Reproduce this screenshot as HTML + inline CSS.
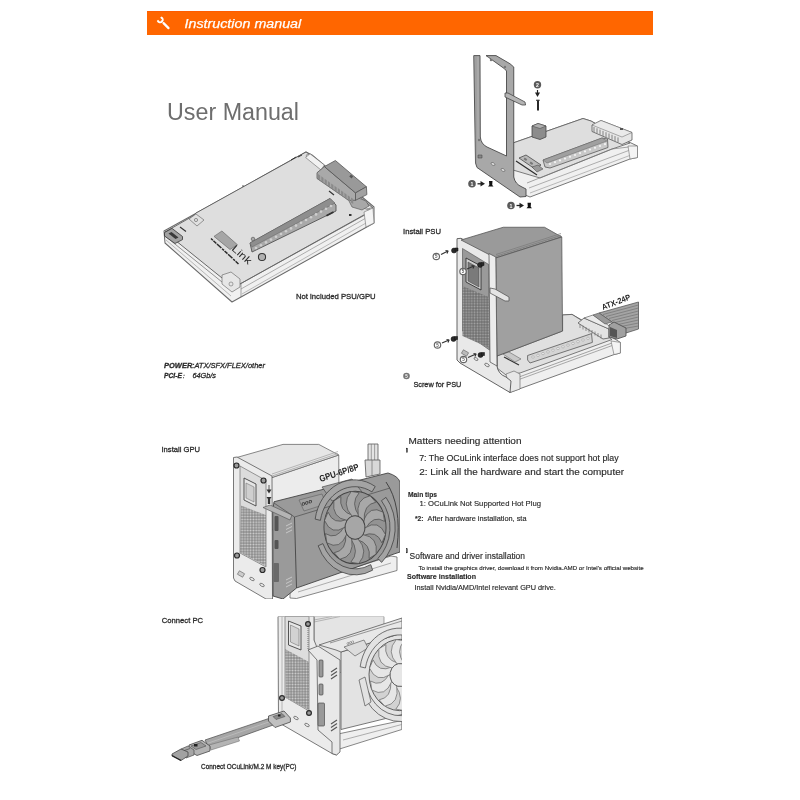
<!DOCTYPE html>
<html><head><meta charset="utf-8">
<style>
html,body{margin:0;padding:0;background:#fff;}
body{width:800px;height:800px;position:relative;overflow:hidden;font-family:"Liberation Sans",sans-serif;}
svg{position:absolute;left:0;top:0;filter:blur(0.35px);}
text{font-family:"Liberation Sans",sans-serif;}
</style></head><body>
<svg width="800" height="800" viewBox="0 0 800 800">
<defs>
<pattern id="mL" width="2.8" height="2.8" patternUnits="userSpaceOnUse"><rect width="2.8" height="2.8" fill="#8a8a8a"/><circle cx="1.4" cy="1.4" r="0.95" fill="#d4d4d4"/></pattern>
<pattern id="mD" width="2.8" height="2.8" patternUnits="userSpaceOnUse"><rect width="2.8" height="2.8" fill="#707070"/><circle cx="1.4" cy="1.4" r="0.9" fill="#a8a8a8"/></pattern>
</defs>
<!-- header -->
<rect x="147" y="11" width="506" height="24" fill="#ff6600"/>
<rect x="147" y="11" width="506" height="1" fill="#ff5c00"/>
<g transform="translate(164.2,23.8) rotate(-45)" fill="#fff">
  <rect x="-1.15" y="-2" width="2.3" height="9.2" rx="1.1"/>
  <path d="M-3.3,-7.2 A3.6,3.6 0 1 0 3.3,-7.2 L1.5,-7.2 L1.5,-4.4 L-1.5,-4.4 L-1.5,-7.2 Z"/>
</g>
<text x="184.5" y="28" font-size="13" font-style="italic" fill="#fff" stroke="#fff" stroke-width="0.25" textLength="116.75" lengthAdjust="spacingAndGlyphs">Instruction manual</text>

<text x="167" y="120" font-size="23.3" fill="#6e6e6e" textLength="132" lengthAdjust="spacingAndGlyphs">User Manual</text>

<g id="d1" stroke-linejoin="round">
  <!-- silhouette -->
  <polygon points="164,231 193,215 306,152 312,155 374,207 374,223 241,297 232,302 165,243" fill="#f0f0f0" stroke="#6a6a6a" stroke-width="1.04"/>
  <!-- board top face -->
  <polygon points="165,232 193,216 196,213 306,152 312,156 373,208 371,211 240,284 232,285 222,278" fill="#dedede" stroke="#5a5a5a" stroke-width="0.91"/>
  <!-- front-left rail lines -->
  <polyline points="165,236 222,282 232,289" fill="none" stroke="#777" stroke-width="0.78"/>
  <polyline points="166,240 231,296" fill="none" stroke="#999" stroke-width="0.65"/>
  <!-- front-right rail lines -->
  <polyline points="240,284 372,211" fill="none" stroke="#666" stroke-width="0.78"/>
  <polyline points="241,289 373,214" fill="none" stroke="#888" stroke-width="0.65"/>
  <polyline points="242,294 373,219" fill="none" stroke="#999" stroke-width="0.65"/>
  <line x1="241" y1="284" x2="241" y2="297" stroke="#777" stroke-width="0.65"/>
  <!-- front corner post -->
  <polygon points="222,275 231,272 240,279 240,287 232,292 222,284" fill="#e6e6e6" stroke="#666" stroke-width="0.65"/>
  <circle cx="231" cy="284" r="2" fill="none" stroke="#777" stroke-width="0.65"/>
  <!-- right end box -->
  <polygon points="364,212 373,208 374,223 366,227" fill="#f4f4f4" stroke="#777" stroke-width="0.65"/>
  <circle cx="368" cy="208" r="1.8" fill="none" stroke="#777" stroke-width="0.65"/>
  <!-- top corner -->
  <circle cx="308" cy="156" r="1.8" fill="none" stroke="#777" stroke-width="0.65"/>
  <!-- USB connector left -->
  <polygon points="164.5,232.5 172,228.4 182.5,236.5 182.5,239.6 175,243.5 164.5,236" fill="#a2a2a2" stroke="#333" stroke-width="0.8"/>
  <polygon points="168.5,233.5 171.5,232 178.5,237.5 175.5,239" fill="#3a3a3a"/>
  <line x1="180" y1="227" x2="186" y2="231.5" stroke="#333" stroke-width="1.1"/>
  <!-- small screw post left -->
  <polygon points="189,219 196,214 204,220 197,226" fill="#e0e0e0" stroke="#666" stroke-width="0.65"/>
  <circle cx="196" cy="220" r="1.6" fill="none" stroke="#666" stroke-width="0.65"/>
  <polygon points="310,153.75 324.4,165 321,170 305.6,157.5" fill="#f2f2f2" stroke="#666" stroke-width="0.6"/>
  <polygon points="359,199 372.5,207.5 366,209 356,204" fill="#f2f2f2" stroke="#666" stroke-width="0.6"/>
  <!-- connector 24pin -->
  <polygon points="348,199 356,197 366,201 369,206 362,210 352,207" fill="#a8a8a8" stroke="#555" stroke-width="0.65"/>
  <polygon points="317,172.75 324.4,166.6 355.5,192.9 355.5,200.3 348.5,200.3 317,178.5" fill="#a9a9a9" stroke="#555" stroke-width="0.78"/>
  <g fill="#8a8a8a"><path d="M318.0,174.0 l2.2,1.6 l0,5 l-2.2,-1.6 Z"/><path d="M321.3,176.3 l2.2,1.6 l0,5 l-2.2,-1.6 Z"/><path d="M324.6,178.7 l2.2,1.6 l0,5 l-2.2,-1.6 Z"/><path d="M327.9,181.1 l2.2,1.6 l0,5 l-2.2,-1.6 Z"/><path d="M331.2,183.4 l2.2,1.6 l0,5 l-2.2,-1.6 Z"/><path d="M334.5,185.8 l2.2,1.6 l0,5 l-2.2,-1.6 Z"/><path d="M337.8,188.1 l2.2,1.6 l0,5 l-2.2,-1.6 Z"/><path d="M341.1,190.4 l2.2,1.6 l0,5 l-2.2,-1.6 Z"/><path d="M344.4,192.8 l2.2,1.6 l0,5 l-2.2,-1.6 Z"/><path d="M347.7,195.2 l2.2,1.6 l0,5 l-2.2,-1.6 Z"/><path d="M351.0,197.5 l2.2,1.6 l0,5 l-2.2,-1.6 Z"/></g>
  <polygon points="324.4,166.6 335.4,160.5 366.4,186.75 355.5,192.9" fill="#999" stroke="#555" stroke-width="0.78"/>
  <polygon points="355.5,192.9 366.4,186.75 366.9,194.6 355.5,200.3" fill="#a2a2a2" stroke="#555" stroke-width="0.78"/>
  <rect x="350" y="175" width="3" height="2.5" fill="#555" transform="rotate(40 351 176)"/>
  <!-- small marks -->
  <line x1="329" y1="191" x2="334" y2="195" stroke="#333" stroke-width="1.2"/>
  <line x1="291" y1="160" x2="296" y2="157" stroke="#333" stroke-width="1.0"/>
  <line x1="298" y1="157" x2="302" y2="155" stroke="#333" stroke-width="1.0"/>
  <circle cx="243" cy="186" r="0.8" fill="#444"/>
  <rect x="349" y="214" width="2.5" height="2" fill="#333"/>
  <!-- PCIe slot -->
  <polygon points="250,243 330,198.5 336,205 336,211 252,252" fill="#a9a9a9" stroke="#555" stroke-width="0.91"/>
  <polygon points="250,243 330,198.5 335,203 252,247" fill="#8e8e8e" stroke="#666" stroke-width="0.52"/>
  <g fill="#cfcfcf">
    <circle cx="256" cy="248" r="1.3"/><circle cx="261" cy="245.2" r="1.3"/><circle cx="266" cy="242.4" r="1.3"/>
    <circle cx="271" cy="239.6" r="1.3"/><circle cx="276" cy="236.8" r="1.3"/><circle cx="281" cy="234" r="1.3"/>
    <circle cx="286" cy="231.2" r="1.3"/><circle cx="291" cy="228.4" r="1.3"/><circle cx="296" cy="225.6" r="1.3"/>
    <circle cx="301" cy="222.8" r="1.3"/><circle cx="306" cy="220" r="1.3"/><circle cx="311" cy="217.2" r="1.3"/>
    <circle cx="316" cy="214.4" r="1.3"/><circle cx="321" cy="211.6" r="1.3"/><circle cx="326" cy="208.8" r="1.3"/>
    <circle cx="331" cy="206" r="1.3"/>
  </g>
  <circle cx="253" cy="239" r="1.8" fill="#aaa" stroke="#555" stroke-width="0.65"/>
  <circle cx="262" cy="257" r="3.6" fill="#b0b0b0" stroke="#333" stroke-width="1.04"/>
  <rect x="326" y="213" width="8" height="1.8" fill="#333" transform="rotate(-28 330 214)"/>
  <!-- OCuLink logo -->
  <polygon points="214,236.4 221.9,231 237.5,244.8 230,249.5" fill="#a6a6a6" stroke="#666" stroke-width="0.65"/>
  <polyline points="211,238.5 230,256 239,264.5" fill="none" stroke="#2a2a2a" stroke-width="1.5" stroke-dasharray="2.5 0.8 4 0.8 6 1"/>
  <text x="0" y="0" font-size="10" fill="#2a2a2a" transform="translate(231,249.5) rotate(42)" textLength="23" lengthAdjust="spacingAndGlyphs">Link</text>
</g>

<g id="d2" stroke-linejoin="round">
  <!-- board/tray -->
  <polygon points="513,143 583,118.5 591,121 630,142.5 637.5,146 637.5,157.5 630,159 530,197 513,190" fill="#f0f0f0" stroke="#6a6a6a" stroke-width="0.91"/>
  <polygon points="513,143 583,118.5 591,121 630,143 612,149 540,178 513,170" fill="#dedede" stroke="#5a5a5a" stroke-width="0.78"/>
  <polyline points="527,183 612,149 637,146" fill="none" stroke="#777" stroke-width="0.65"/>
  <polyline points="529,188 630,150" fill="none" stroke="#888" stroke-width="0.65"/>
  <polyline points="530,193 631,155" fill="none" stroke="#999" stroke-width="0.65"/>
  <polygon points="628,146 637.5,146 637.5,157.5 630,159" fill="#f4f4f4" stroke="#777" stroke-width="0.65"/>
  <!-- clips on board -->
  <polygon points="519,158 526,155 541,165 535,169" fill="#b8b8b8" stroke="#444" stroke-width="0.78"/>
  <rect x="524" y="158" width="3" height="2" fill="#777" transform="rotate(33 525 159)"/><rect x="530" y="162" width="3" height="2" fill="#777" transform="rotate(33 531 163)"/>
  <line x1="516" y1="161" x2="537" y2="175" stroke="#2a2a2a" stroke-width="1.1"/>
  <polygon points="532,167 538,165 543,169 537,172" fill="#999" stroke="#444" stroke-width="0.52"/>
  <!-- 24pin -->
  <polygon points="592,125 601,120.5 632,132.5 632,140 622,144.5 592,131.5" fill="#e6e6e6" stroke="#555" stroke-width="0.78"/>
  <polygon points="592,125 601,120.5 632,132.5 622,137" fill="#eaeaea" stroke="#666" stroke-width="0.52"/>
  <g stroke="#777" stroke-width="0.91">
    <line x1="594" y1="127" x2="594" y2="132"/><line x1="597" y1="128.3" x2="597" y2="133.3"/>
    <line x1="600" y1="129.6" x2="600" y2="134.6"/><line x1="603" y1="130.9" x2="603" y2="135.9"/>
    <line x1="606" y1="132.2" x2="606" y2="137.2"/><line x1="609" y1="133.5" x2="609" y2="138.5"/>
    <line x1="612" y1="134.8" x2="612" y2="139.8"/><line x1="615" y1="136.1" x2="615" y2="141.1"/>
    <line x1="618" y1="137.4" x2="618" y2="142.4"/>
  </g>
  <rect x="620" y="128" width="3" height="2" fill="#555"/>
  <!-- PCIe slot -->
  <polygon points="543,160 602,138 607.5,139 608,147.5 550,168 545,167" fill="#c8c8c8" stroke="#555" stroke-width="0.78"/>
  <polygon points="543,160 602,138 607,141 547,163" fill="#a0a0a0" stroke="#666" stroke-width="0.52"/>
  <g fill="#f2f2f2">
    <circle cx="550" cy="164" r="1.1"/><circle cx="555" cy="162.2" r="1.1"/><circle cx="560" cy="160.4" r="1.1"/>
    <circle cx="565" cy="158.6" r="1.1"/><circle cx="570" cy="156.8" r="1.1"/><circle cx="575" cy="155" r="1.1"/>
    <circle cx="580" cy="153.2" r="1.1"/><circle cx="585" cy="151.4" r="1.1"/><circle cx="590" cy="149.6" r="1.1"/>
    <circle cx="595" cy="147.8" r="1.1"/><circle cx="600" cy="146" r="1.1"/><circle cx="605" cy="144.2" r="1.1"/>
  </g>
  <!-- cube -->
  <polygon points="532,126 538,123.5 546,126 546,137 540,139.5 532,137" fill="#8c8c8c" stroke="#444" stroke-width="0.78"/>
  <polygon points="532,126 538,123.5 546,126 540,128.5" fill="#b0b0b0" stroke="#444" stroke-width="0.52"/>
  <!-- bracket -->
  <path d="M473.75,55.6 L480,55.6 L480.3,137 Q481,144 487,147 L506.5,156 L506.5,71 L504.5,68.75 L488.75,57.5 L486,55.6 L496,55.6 L510,63.75 L513.75,67 L513.75,177 Q515,184 522,187 L526,189 L526,196.5 L520,197 L477,167.5 L475.5,163 Z" fill="#a8a8a8" stroke="#4a4a4a" stroke-width="0.91"/>
  <line x1="476" y1="56" x2="476" y2="164" stroke="#888" stroke-width="0.52"/>
  <circle cx="491" cy="60" r="1.2" fill="#777"/><circle cx="505" cy="67" r="1.2" fill="#777"/>
  <circle cx="479" cy="140" r="1.2" fill="#777"/>
  <ellipse cx="493" cy="164" rx="2.2" ry="1.2" fill="#e0e0e0" stroke="#555" stroke-width="0.52" transform="rotate(30 493 164)"/>
  <ellipse cx="503" cy="170" rx="2.2" ry="1.2" fill="#e0e0e0" stroke="#555" stroke-width="0.52" transform="rotate(30 503 170)"/>
  <rect x="478" y="155" width="4" height="3" fill="#888" stroke="#444" stroke-width="0.52"/>
  <!-- tab -->
  <polygon points="505,93 508,93 525,102 525.6,105 522,105 505,97" fill="#b4b4b4" stroke="#444" stroke-width="0.78"/>
  <!-- screw 2 -->
  <circle cx="537.5" cy="84.75" r="3.7" fill="#5a5a5a"/>
  <text x="536" y="86.8" font-size="5.2" font-weight="bold" fill="#fff">2</text>
  <line x1="537.5" y1="90" x2="537.5" y2="95" stroke="#222" stroke-width="1.17"/>
  <polygon points="535,92.5 540,92.5 537.5,97" fill="#222"/>
  <line x1="538" y1="101" x2="538" y2="110.5" stroke="#111" stroke-width="1.8"/>
  <line x1="536.2" y1="100.3" x2="539.6" y2="100.3" stroke="#222" stroke-width="1.2"/>
  <!-- markers 1 -->
  <g>
    <circle cx="472" cy="183.8" r="3.8" fill="#5a5a5a"/>
    <text x="470.6" y="185.9" font-size="5.2" font-weight="bold" fill="#fff">1</text>
    <line x1="477.5" y1="183.8" x2="482" y2="183.8" stroke="#222" stroke-width="1.3"/>
    <polygon points="480.5,181 485,183.8 480.5,186.6" fill="#222"/>
    <path d="M489,181 L492.5,181 L492.2,185 L493.5,186.6 L488,186.6 L489.3,185 Z" fill="#111"/>
  </g>
  <g>
    <circle cx="511" cy="205.5" r="3.8" fill="#5a5a5a"/>
    <text x="509.6" y="207.6" font-size="5.2" font-weight="bold" fill="#fff">1</text>
    <line x1="516.5" y1="205.5" x2="521" y2="205.5" stroke="#222" stroke-width="1.3"/>
    <polygon points="519.5,202.7 524,205.5 519.5,208.3" fill="#222"/>
    <path d="M527.5,202.7 L531,202.7 L530.7,206.7 L532,208.3 L526.5,208.3 L527.8,206.7 Z" fill="#111"/>
  </g>
</g>

<g id="d3" stroke-linejoin="round">
  <!-- board / tray -->
  <polygon points="497,340 562.6,315 572,314.4 616,339.7 620.4,342.4 620.4,353 614,354.6 519.75,388.75 510,392.5 497,380" fill="#efefef" stroke="#6a6a6a" stroke-width="0.91"/>
  <polygon points="497,356 562.6,331 562.6,315 572,314.4 612,339.5 520,373 506,375 497,368" fill="#e0e0e0" stroke="#5a5a5a" stroke-width="0.78"/>
  <polyline points="519,377 612,343" fill="none" stroke="#777" stroke-width="0.65"/>
  <polyline points="519,379.5 615,344.5" fill="none" stroke="#777" stroke-width="0.6"/>
  
  <polygon points="611,341 620.4,342.4 620.4,353 614,354.6" fill="#f4f4f4" stroke="#777" stroke-width="0.65"/>
  <polygon points="506,374 514,371 520,374 520,389 510,392.5" fill="#e8e8e8" stroke="#666" stroke-width="0.65"/>
  <!-- slot -->
  <polygon points="527.6,355.5 591.5,333.6 592.4,342.4 530,363 527.6,360" fill="#d4d4d4" stroke="#555" stroke-width="0.78"/>
  <g fill="#f4f4f4" stroke="#777" stroke-width="0.39">
    <circle cx="533" cy="357" r="1.2"/><circle cx="538" cy="355.3" r="1.2"/><circle cx="543" cy="353.6" r="1.2"/>
    <circle cx="548" cy="351.9" r="1.2"/><circle cx="553" cy="350.2" r="1.2"/><circle cx="558" cy="348.5" r="1.2"/>
    <circle cx="563" cy="346.8" r="1.2"/><circle cx="568" cy="345.1" r="1.2"/><circle cx="573" cy="343.4" r="1.2"/>
    <circle cx="578" cy="341.7" r="1.2"/><circle cx="583" cy="340" r="1.2"/><circle cx="588" cy="338.3" r="1.2"/>
  </g>
  <line x1="504" y1="357" x2="519" y2="365" stroke="#333" stroke-width="1.17"/>
  <polygon points="503,354 509,352 521,359 515,362" fill="#c8c8c8" stroke="#555" stroke-width="0.52"/>
  <!-- 24p connector on board -->
  <polygon points="578,323 584,318 609,329 609,338 603,339" fill="#e4e4e4" stroke="#555" stroke-width="0.78"/>
  <g stroke="#777" stroke-width="0.78">
    <line x1="580" y1="324" x2="580" y2="328"/><line x1="583" y1="325.5" x2="583" y2="329.5"/>
    <line x1="586" y1="327" x2="586" y2="331"/><line x1="589" y1="328.5" x2="589" y2="332.5"/>
    <line x1="592" y1="330" x2="592" y2="334"/><line x1="595" y1="331.5" x2="595" y2="335.5"/>
    <line x1="598" y1="333" x2="598" y2="337"/><line x1="601" y1="334.5" x2="601" y2="338.5"/>
  </g>
  <polygon points="584,318 593,315 614,329 609,329" fill="#ececec" stroke="#555" stroke-width="0.65"/>
  <!-- ATX cable ribbon -->
  <polygon points="599,313 638.5,302 638.5,329 626,333 612,322" fill="#a4a4a4" stroke="#555" stroke-width="0.78"/>
  <g stroke="#6a6a6a" stroke-width="0.59">
    <line x1="603" y1="314.5" x2="638.5" y2="305"/><line x1="606" y1="316.5" x2="638.5" y2="308"/>
    <line x1="609" y1="318.5" x2="638.5" y2="311"/><line x1="612" y1="320.5" x2="638.5" y2="314"/>
    <line x1="615" y1="322.5" x2="638.5" y2="317"/><line x1="618" y1="324.5" x2="638.5" y2="320"/>
    <line x1="621" y1="326.5" x2="638.5" y2="323"/><line x1="624" y1="328.5" x2="638.5" y2="326"/>
  </g>
  <polygon points="593,315 599,313 612,322 605,324" fill="#999" stroke="#555" stroke-width="0.65"/>
  <polygon points="609,325 614,322 626,328 626,336 617,339 609,337" fill="#a0a0a0" stroke="#444" stroke-width="0.78"/>
  <polygon points="610,327 617,330 617,338 610,336" fill="#555"/>
  <text x="0" y="0" font-size="8" font-weight="bold" fill="#222" transform="translate(603,310) rotate(-21)" textLength="30" lengthAdjust="spacingAndGlyphs">ATX-24P</text>
  <!-- bracket light -->
  <path d="M457,238.7 L461,238.3 L496,257 L497,366 Q498,374 506,377 L511,381 L510,392.5 L460,363 L457,360 Z" fill="#e9e9e9" stroke="#555" stroke-width="0.91"/>
  <!-- PSU back panel inner -->
  <polygon points="462.5,248.5 488.7,264.5 489.5,350 462.5,331" fill="#9a9a9a" stroke="#555" stroke-width="0.65"/>
  <polygon points="462.5,286 488.7,297 489.5,348 462.5,336" fill="url(#mD)"/>
  <!-- inlet -->
  <polygon points="466,258 481,266 481,290 466,282" fill="#d0d0d0" stroke="#333" stroke-width="0.91"/>
  <polygon points="468,262 479,268 479,287 468,281" fill="#7a7a7a" stroke="#444" stroke-width="0.52"/>
  <!-- PSU top face -->
  <polygon points="461,240 503.25,227.25 544.5,227.25 561.75,237 495.75,258" fill="#9a9a9a" stroke="#555" stroke-width="0.78"/>
  <g stroke="#777" stroke-width="0.65"><line x1="496" y1="254.5" x2="561" y2="233.5"/><line x1="496" y1="256.3" x2="561" y2="235.3"/></g>
  <!-- PSU side face -->
  <polygon points="495.75,258 561.75,237 562.5,331 497,356" fill="#a0a0a0" stroke="#555" stroke-width="0.78"/>
  <!-- right bar of bracket -->
  <polygon points="489,253.5 495.8,257 497,366 490,362" fill="#ececec" stroke="#555" stroke-width="0.78"/>
  <!-- tab -->
  <polygon points="490,288 495,289 509,297 509,301 505,301 490,293" fill="#e4e4e4" stroke="#555" stroke-width="0.78"/>
  <!-- bottom holes -->
  <ellipse cx="487" cy="365" rx="2.5" ry="1.4" fill="none" stroke="#555" stroke-width="0.65" transform="rotate(30 487 365)"/>
  <ellipse cx="476" cy="359" rx="2.2" ry="1.2" fill="none" stroke="#555" stroke-width="0.65" transform="rotate(30 476 359)"/>
  <rect x="462" y="351" width="6" height="4" fill="#bbb" stroke="#555" stroke-width="0.52" transform="rotate(30 465 353)"/>
  <!-- screws -->
  <g fill="#2a2a2a" stroke="#111" stroke-width="0.52">
    <circle cx="454" cy="250.5" r="2.5"/><rect x="455" y="248" width="3" height="3"/>
    <circle cx="480" cy="265" r="2.5"/><rect x="481" y="262.5" width="3" height="3"/>
    <circle cx="453.5" cy="339" r="2.5"/><rect x="454.5" y="336.5" width="3" height="3"/>
    <circle cx="480.5" cy="355" r="2.5"/><rect x="481.5" y="352.5" width="3" height="3"/>
  </g>
  <!-- markers 5 -->
  <g fill="#fff" stroke="#666" stroke-width="1.17">
    <circle cx="436.3" cy="256.5" r="3.2"/><circle cx="463" cy="271.5" r="3.2"/>
    <circle cx="437.5" cy="345" r="3.2"/><circle cx="463.5" cy="359.5" r="3.2"/>
  </g>
  <circle cx="406.5" cy="376" r="3.3" fill="#777"/>
  <g stroke="#333" stroke-width="1.17" fill="none">
    <line x1="441" y1="254.5" x2="448" y2="251"/><polyline points="445.5,250.5 448,251 447,253.5"/>
    <line x1="467" y1="269" x2="474" y2="266"/><polyline points="471.5,265.5 474,266 473,268.5"/>
    <line x1="442" y1="343" x2="449" y2="340"/><polyline points="446.5,339.5 449,340 448,342.5"/>
    <line x1="468" y1="357.5" x2="476" y2="354"/><polyline points="473.5,353.5 476,354 475,356.5"/>
  </g>
  <g font-size="4.5" font-weight="bold" fill="#555">
    <text x="435" y="258.2">5</text><text x="461.7" y="273.2">5</text><text x="436.2" y="346.7">5</text><text x="462.2" y="361.2">5</text>
  </g>
  <text x="405.2" y="377.7" font-size="4.5" font-weight="bold" fill="#fff">5</text>
</g>

<g id="d4" stroke-linejoin="round" clip-path="url(#c4)">
  <!-- PSU side face -->
  <polygon points="270.6,478 338.75,455 339,510 272,530" fill="#ececec" stroke="#666" stroke-width="0.78"/>
  <!-- PSU top face -->
  <polygon points="235,458 283,444.4 318.75,444.4 338.75,455 270.6,478" fill="#e6e6e6" stroke="#666" stroke-width="0.78"/>
  <g stroke="#999" stroke-width="0.65"><line x1="272" y1="474" x2="338" y2="451.5"/><line x1="272" y1="476" x2="338" y2="453.5"/></g>
  <!-- back panel frame -->
  <polygon points="233.5,457.5 237,457 272,476 272.5,599 266,599 235,581 233.5,578" fill="#ebebeb" stroke="#555" stroke-width="0.78"/>
  <polygon points="240,466 266,480.5 266,567 240,553" fill="#dcdcdc" stroke="#666" stroke-width="0.65"/>
  <polygon points="241,505.6 266,515 266,566 240,552.5" fill="url(#mL)"/>
  <polygon points="244,478 256,484 256,506 244,500" fill="#e6e6e6" stroke="#444" stroke-width="0.91"/>
  <polygon points="246,483 254,487 254,502 246,498" fill="#cfcfcf" stroke="#666" stroke-width="0.52"/>
  <g fill="#9a9a9a" stroke="#2a2a2a" stroke-width="1.2">
    <circle cx="236.5" cy="465.5" r="2.5"/><circle cx="263.5" cy="480.5" r="2.5"/>
    <circle cx="237" cy="555.5" r="2.5"/><circle cx="262.5" cy="570" r="2.5"/>
  </g>
  <line x1="269" y1="485" x2="269" y2="491" stroke="#333" stroke-width="0.8"/><polygon points="266.5,489.5 271.5,489.5 269,493.5" fill="#333"/>
  <path d="M266.5,497 L271.5,497 L270.2,499 L270.2,504 L267.8,504 L267.8,499 Z" fill="#333"/>
  <rect x="238" y="572" width="6" height="4" fill="#ccc" stroke="#555" stroke-width="0.52" transform="rotate(30 241 574)"/>
  <ellipse cx="252" cy="579" rx="2.5" ry="1.3" fill="none" stroke="#555" stroke-width="0.65" transform="rotate(30 252 579)"/>
  <ellipse cx="262" cy="585" rx="2.5" ry="1.3" fill="none" stroke="#555" stroke-width="0.65" transform="rotate(30 262 585)"/>
  <!-- cable -->
  <rect x="368" y="444" width="10" height="18" fill="#e4e4e4" stroke="#555" stroke-width="0.78"/>
  <line x1="371.3" y1="444" x2="371.3" y2="462" stroke="#777" stroke-width="0.65"/>
  <line x1="374.6" y1="444" x2="374.6" y2="462" stroke="#777" stroke-width="0.65"/>
  <polygon points="365,460 380,460 380,474 366,477" fill="#d8d8d8" stroke="#555" stroke-width="0.78"/>
  <line x1="372" y1="460" x2="372" y2="476" stroke="#666" stroke-width="0.65"/>
  <!-- tray below gpu -->
  <polygon points="290,588 391,556 397,557 397,570.5 296.5,598.5 290,598" fill="#efefef" stroke="#666" stroke-width="0.78"/>
  <line x1="298" y1="592" x2="391" y2="563" stroke="#888" stroke-width="0.65"/>
  <!-- GPU body -->
  <path d="M272.75,511 L274,501.75 L388,473 Q398,476 400,482 L400,552 L394,554 L296.5,588 L283,599 L273,596 Z" fill="#9a9a9a" stroke="#444" stroke-width="0.91"/>
  <polygon points="263,507.5 270,505 292,515 290,520" fill="#b4b4b4" stroke="#555" stroke-width="0.65"/>
  <line x1="294.5" y1="517" x2="296.5" y2="588" stroke="#444" stroke-width="0.91"/>
  <polyline points="274,503 294.5,517 390,488" fill="none" stroke="#555" stroke-width="0.78"/>
  <g fill="#555">
    <rect x="274.5" y="516" width="4" height="15" rx="1"/>
    <rect x="274.5" y="540" width="4" height="9" rx="1"/>
    <rect x="273.5" y="563" width="5.5" height="19" rx="1" fill="#6a6a6a"/>
  </g>
  <g stroke="#c8c8c8" stroke-width="1.0">
    <line x1="286" y1="526" x2="292" y2="523"/><line x1="286" y1="529.5" x2="292" y2="526.5"/><line x1="286" y1="533" x2="292" y2="530"/>
    <line x1="286" y1="580" x2="292" y2="577"/><line x1="286" y1="583.5" x2="292" y2="580.5"/><line x1="286" y1="587" x2="292" y2="584"/>
  </g>
  <!-- logo plate -->
  <polygon points="322,487 352,479 362,492 332,501" fill="#a4a4a4" stroke="#444" stroke-width="0.65"/>
  <polygon points="299,500 322,494 326,504 304,511" fill="#a0a0a0" stroke="#555" stroke-width="0.52"/>
  <text x="0" y="0" font-size="6" font-style="italic" font-weight="bold" fill="#333" transform="translate(302,506) rotate(-17)">ooo</text>
  <!-- shroud ring -->
  <path d="M386,482 Q402,505 397,548" fill="none" stroke="#444" stroke-width="1"/>
  <g transform="translate(355,527.5) scale(1,1.17) rotate(-10)">
  <path d="M-33,-12 A35,35 0 0 1 22,-27 L26,-31 A40,40 0 0 0 -38,-14 Z" fill="#a4a4a4" stroke="#444" stroke-width="0.7"/>
  <path d="M30,-18 A35,35 0 0 1 18,30 L21,34 A40,40 0 0 0 35,-20 Z" fill="#a4a4a4" stroke="#444" stroke-width="0.7"/>
  <path d="M-34,8 A35,35 0 0 0 10,34 L11,39 A40,40 0 0 1 -39,9 Z" fill="#a4a4a4" stroke="#444" stroke-width="0.7"/>
  <circle r="31" fill="#939393" stroke="#444" stroke-width="0.9"/>
  <g fill="#a8a8a8" stroke="#4a4a4a" stroke-width="0.6"><path transform="rotate(0)" d="M9,-4 Q18,-17 30,-8 L30,0 Q20,-8 10,3 Z"/><path transform="rotate(36)" d="M9,-4 Q18,-17 30,-8 L30,0 Q20,-8 10,3 Z"/><path transform="rotate(72)" d="M9,-4 Q18,-17 30,-8 L30,0 Q20,-8 10,3 Z"/><path transform="rotate(108)" d="M9,-4 Q18,-17 30,-8 L30,0 Q20,-8 10,3 Z"/><path transform="rotate(144)" d="M9,-4 Q18,-17 30,-8 L30,0 Q20,-8 10,3 Z"/><path transform="rotate(180)" d="M9,-4 Q18,-17 30,-8 L30,0 Q20,-8 10,3 Z"/><path transform="rotate(216)" d="M9,-4 Q18,-17 30,-8 L30,0 Q20,-8 10,3 Z"/><path transform="rotate(252)" d="M9,-4 Q18,-17 30,-8 L30,0 Q20,-8 10,3 Z"/><path transform="rotate(288)" d="M9,-4 Q18,-17 30,-8 L30,0 Q20,-8 10,3 Z"/><path transform="rotate(324)" d="M9,-4 Q18,-17 30,-8 L30,0 Q20,-8 10,3 Z"/></g>
  <circle r="10" fill="#a6a6a6" stroke="#444" stroke-width="0.9"/>
  </g>
  <text x="0" y="0" font-size="9" font-weight="bold" fill="#222" transform="translate(320.5,482) rotate(-18)" textLength="41" lengthAdjust="spacingAndGlyphs">GPU-6P/8P</text>
</g>

<defs><clipPath id="c5"><rect x="0" y="616.5" width="402" height="184"/></clipPath><clipPath id="c4"><rect x="0" y="440" width="400" height="159"/></clipPath></defs>
<g id="d5" stroke-linejoin="round" clip-path="url(#c5)">
  <!-- PSU side/top -->
  <polygon points="314,616.5 384,616.5 384,660 314,680" fill="#e4e4e4" stroke="#777" stroke-width="0.65"/>
  <g stroke="#999" stroke-width="0.65"><line x1="314" y1="620" x2="332" y2="616.5"/><line x1="314" y1="622" x2="340" y2="616.5"/></g>
  <!-- frame -->
  <polygon points="278,616.5 314,616.5 314,640 318,650 338,668 338,752 336.5,755 332,753.5 278.5,722.5" fill="#ebebeb" stroke="#555" stroke-width="0.78"/>
  <line x1="282" y1="616.5" x2="282" y2="722" stroke="#999" stroke-width="0.65"/>
  <polygon points="285,616.5 309,616.5 309,711 285,697" fill="#dedede" stroke="#666" stroke-width="0.65"/>
  <polygon points="285,649 309,662 309,710 286,698" fill="url(#mL)"/>
  <line x1="308" y1="626" x2="308" y2="650" stroke="#777" stroke-width="1.04" stroke-dasharray="1 1"/>
  <polygon points="288.5,621 301,626 301,650 288.5,645" fill="#e6e6e6" stroke="#444" stroke-width="0.91"/>
  <polygon points="290.5,625 299,629 299,646 290.5,642" fill="#d2d2d2" stroke="#666" stroke-width="0.52"/>
  <g fill="#9a9a9a" stroke="#2a2a2a" stroke-width="1.2">
    <circle cx="308" cy="624" r="2.4"/><circle cx="282" cy="698" r="2.4"/><circle cx="309" cy="713" r="2.4"/>
  </g>
  <ellipse cx="296" cy="718" rx="2.5" ry="1.3" fill="none" stroke="#555" stroke-width="0.65" transform="rotate(30 296 718)"/>
  <ellipse cx="307" cy="725" rx="2.5" ry="1.3" fill="none" stroke="#555" stroke-width="0.65" transform="rotate(30 307 725)"/>
  <!-- tray -->
  <polygon points="338,734 401.75,720.5 401.75,729.5 339.5,749 336,752" fill="#efefef" stroke="#666" stroke-width="0.78"/>
  <line x1="343" y1="740" x2="401.75" y2="724.5" stroke="#888" stroke-width="0.65"/>
  <!-- GPU io bracket -->
  <polygon points="308,650 318,646 340,660 340,752 336.5,755 332,753.5 332,742 318,730 317,660" fill="#e8e8e8" stroke="#555" stroke-width="0.78"/>
  <g fill="#999" stroke="#444" stroke-width="0.65">
    <rect x="319" y="660" width="4" height="17" rx="1"/>
    <rect x="319" y="684" width="4" height="11" rx="1"/>
    <rect x="318" y="703" width="6.5" height="23" rx="1"/>
  </g>
  <g stroke="#555" stroke-width="1.04">
    <line x1="331" y1="672" x2="337" y2="668"/><line x1="331" y1="675.5" x2="337" y2="671.5"/><line x1="331" y1="679" x2="337" y2="675"/>
    <line x1="331" y1="724" x2="337" y2="720"/><line x1="331" y1="727.5" x2="337" y2="723.5"/><line x1="331" y1="731" x2="337" y2="727"/>
  </g>
  <!-- GPU front -->
  <polygon points="341,652 402,633 402,714.5 341,729.5" fill="#e3e3e3" stroke="#555" stroke-width="0.78"/>
  <polygon points="319,645 402,618 402,633 341,652 336,650" fill="#e8e8e8" stroke="#555" stroke-width="0.78"/>
  <line x1="330" y1="643" x2="402" y2="621" stroke="#666" stroke-width="0.65"/>
  <polygon points="344,647 364,640 368,648 355,656" fill="#ddd" stroke="#555" stroke-width="0.65"/>
  <text x="0" y="0" font-size="4.5" font-style="italic" fill="#444" transform="translate(347,645) rotate(-17)">ooo</text>
  <!-- fan -->
  <g transform="translate(400,675) scale(1,1.15) rotate(-10)">
  <path d="M-33,-12 A35,35 0 0 1 22,-27 L26,-31 A40,40 0 0 0 -38,-14 Z" fill="#e2e2e2" stroke="#555" stroke-width="0.7"/>
  <path d="M-34,8 A35,35 0 0 0 10,34 L11,39 A40,40 0 0 1 -39,9 Z" fill="#e2e2e2" stroke="#555" stroke-width="0.7"/>
  <circle r="31" fill="#d2d2d2" stroke="#555" stroke-width="0.8"/>
  <g fill="#e6e6e6" stroke="#666" stroke-width="0.6"><path transform="rotate(0)" d="M9,-4 Q18,-17 30,-8 L30,0 Q20,-8 10,3 Z"/><path transform="rotate(36)" d="M9,-4 Q18,-17 30,-8 L30,0 Q20,-8 10,3 Z"/><path transform="rotate(72)" d="M9,-4 Q18,-17 30,-8 L30,0 Q20,-8 10,3 Z"/><path transform="rotate(108)" d="M9,-4 Q18,-17 30,-8 L30,0 Q20,-8 10,3 Z"/><path transform="rotate(144)" d="M9,-4 Q18,-17 30,-8 L30,0 Q20,-8 10,3 Z"/><path transform="rotate(180)" d="M9,-4 Q18,-17 30,-8 L30,0 Q20,-8 10,3 Z"/><path transform="rotate(216)" d="M9,-4 Q18,-17 30,-8 L30,0 Q20,-8 10,3 Z"/><path transform="rotate(252)" d="M9,-4 Q18,-17 30,-8 L30,0 Q20,-8 10,3 Z"/><path transform="rotate(288)" d="M9,-4 Q18,-17 30,-8 L30,0 Q20,-8 10,3 Z"/><path transform="rotate(324)" d="M9,-4 Q18,-17 30,-8 L30,0 Q20,-8 10,3 Z"/></g>
  <circle r="10" fill="#e6e6e6" stroke="#555" stroke-width="0.8"/>
  </g>
  <polygon points="359,680 365,677 371,702 365,706" fill="#e2e2e2" stroke="#555" stroke-width="0.7"/>
  <!-- cable -->
  <polygon points="205,740 270.25,718 276,724 209,748" fill="#a6a6a6" stroke="#555" stroke-width="0.78"/>
  <line x1="207" y1="743.5" x2="273" y2="720.5" stroke="#c4c4c4" stroke-width="0.65"/>
  <polygon points="209,745 238,737 239.5,741 211,750" fill="#b4b4b4" stroke="#666" stroke-width="0.52"/>
  <polygon points="268.5,716 284,711 290.4,718 290.4,722 275,727.5 268.5,721" fill="#c0c0c0" stroke="#444" stroke-width="0.78"/>
  <polygon points="273,716.5 282,713.5 285,716.5 276,719.5" fill="#8a8a8a" stroke="#444" stroke-width="0.52"/>
  <rect x="278" y="714.5" width="2.5" height="2" fill="#222"/>
  <polygon points="189,745 202,740.3 210,746 210,751 197,755.5 189,751" fill="#b4b4b4" stroke="#444" stroke-width="0.78"/>
  <polygon points="191,746 201,742.5 206,746 196,749.5" fill="#9a9a9a" stroke="#444" stroke-width="0.52"/>
  <rect x="194" y="744" width="3.5" height="2.5" fill="#222"/>
  <polygon points="181,749 188,746 194,750 194,755 186,758" fill="#a6a6a6" stroke="#444" stroke-width="0.65"/>
  <line x1="183" y1="751" x2="190" y2="748.5" stroke="#555" stroke-width="0.78"/>
  <polygon points="172,754 181,749 188,752 188,756 181,760.5 172,756" fill="#a2a2a2" stroke="#444" stroke-width="0.78"/>
  <line x1="172" y1="755.5" x2="181" y2="760.5" stroke="#222" stroke-width="1.2"/>
</g>


<!-- labels -->
<g fill="#2b2b2b" stroke="#2b2b2b" stroke-width="0.3">
<text x="296" y="298.7" font-size="8" textLength="79.6" lengthAdjust="spacingAndGlyphs">Not included PSU/GPU</text>
<text x="164" y="368.1" font-size="8" font-style="italic" textLength="101" lengthAdjust="spacingAndGlyphs"><tspan font-weight="bold">POWER</tspan>:ATX/SFX/FLEX/other</text>
<text x="164" y="377.8" font-size="8" font-style="italic" font-weight="bold" textLength="18" lengthAdjust="spacingAndGlyphs">PCI-E</text>
<text x="183" y="377.8" font-size="6" font-style="italic">:</text>
<text x="192.4" y="377.8" font-size="8" font-style="italic" textLength="23.6" lengthAdjust="spacingAndGlyphs">64Gb/s</text>
<text x="403" y="233.7" font-size="8" textLength="38" lengthAdjust="spacingAndGlyphs">Install PSU</text>
<text x="413.4" y="387" font-size="8" textLength="48" lengthAdjust="spacingAndGlyphs">Screw for PSU</text>
<text x="161.5" y="451.6" font-size="8" textLength="38.5" lengthAdjust="spacingAndGlyphs">Install GPU</text>
<text x="161.8" y="623" font-size="8" textLength="41.2" lengthAdjust="spacingAndGlyphs">Connect PC</text>
<text x="201" y="769" font-size="7" textLength="95.5" lengthAdjust="spacingAndGlyphs">Connect OCuLink/M.2 M key(PC)</text>
</g>
<g fill="#2a2a2a" stroke="#2a2a2a" stroke-width="0.15">
<text x="408.5" y="444.3" font-size="9.5" textLength="113" lengthAdjust="spacingAndGlyphs">Matters needing attention</text>
<text x="419.2" y="460.9" font-size="9" textLength="199.4" lengthAdjust="spacingAndGlyphs">7: The OCuLink interface does not support hot play</text>
<text x="419.2" y="474.7" font-size="9.5" textLength="204.8" lengthAdjust="spacingAndGlyphs">2: Link all the hardware and start the computer</text>
<text x="408" y="496.5" font-size="7.5" font-weight="bold" textLength="29" lengthAdjust="spacingAndGlyphs">Main tips</text>
<text x="419.4" y="506" font-size="8" textLength="121.6" lengthAdjust="spacingAndGlyphs">1: OCuLink Not Supported Hot Plug</text>
<text x="415" y="521" font-size="8" font-weight="bold" textLength="8.6" lengthAdjust="spacingAndGlyphs">*2:</text>
<text x="427.5" y="521" font-size="7.5" textLength="99" lengthAdjust="spacingAndGlyphs">After hardware installation, sta</text>
<rect x="406.3" y="448" width="1.3" height="4.5"/>
<rect x="406.3" y="548.5" width="1.2" height="4.5"/>
<text x="409.6" y="559" font-size="8.5" textLength="115.4" lengthAdjust="spacingAndGlyphs">Software and driver installation</text>
<text x="418.4" y="569.6" font-size="6" textLength="225.2" lengthAdjust="spacingAndGlyphs">To install the graphics driver, download it from Nvidia.AMD or Intel's official website</text>
<text x="407" y="579.4" font-size="7.5" font-weight="bold" textLength="69" lengthAdjust="spacingAndGlyphs">Software installation</text>
<text x="414.5" y="590" font-size="7.5" textLength="141.4" lengthAdjust="spacingAndGlyphs">Install Nvidia/AMD/Intel relevant GPU drive.</text>
</g>
</svg>
</body></html>
